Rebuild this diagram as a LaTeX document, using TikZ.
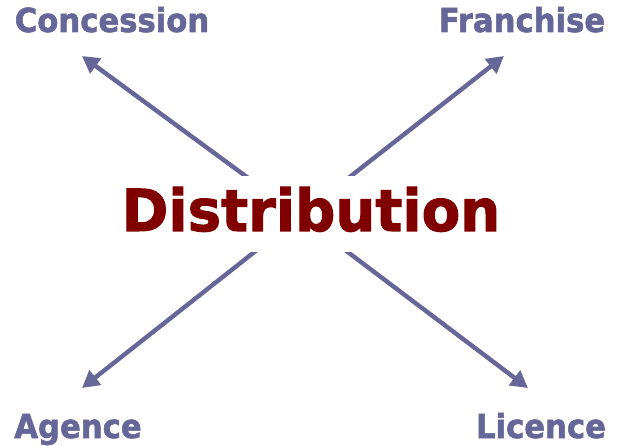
\documentclass[tikz,border=0pt]{standalone}
\usepackage{fontspec}
\setmainfont{DejaVu Sans}[BoldFeatures={FakeBold=1.8}]
\usetikzlibrary{arrows.meta, backgrounds}

\definecolor{slate}{HTML}{666699}
\definecolor{maroon}{HTML}{800000}

\begin{document}
\begin{tikzpicture}[x=1pt, y=-1pt,
    label/.style={text=slate, font=\bfseries\fontsize{33}{33}\selectfont, inner sep=0pt, anchor=base, xscale=0.93},
    hub/.style={text=maroon, fill=white, font=\bfseries\fontsize{58}{58}\selectfont,
        inner sep=0pt, text height=55pt, text depth=21pt, anchor=base, xscale=0.97},
    link/.style={draw=slate, line width=4.4pt, -{Triangle[length=17pt, width=18pt]}}]
    \useasboundingbox (0,0) rectangle (624,446);

    \node[hub]   (dist) at (311,231) {Distribution};
    \node[label] (con)  at (112,32)  {Concession};
    \node[label] (fra)  at (522,32)  {Franchise};
    \node[label] (age)  at (78,438)  {Agence};
    \node[label] (lic)  at (541,438) {Licence};

    \coordinate (mid)    at (300,216);
    \coordinate (con tip) at (82,56);
    \coordinate (fra tip) at (504,56);
    \coordinate (age tip) at (82,388);
    \coordinate (lic tip) at (528,388);

    \begin{scope}[on background layer]
        \draw[link] (mid) -- (con tip);
        \draw[link] (mid) -- (fra tip);
        \draw[link] (mid) -- (age tip);
        \draw[link] (mid) -- (lic tip);
    \end{scope}
\end{tikzpicture}
\end{document}
